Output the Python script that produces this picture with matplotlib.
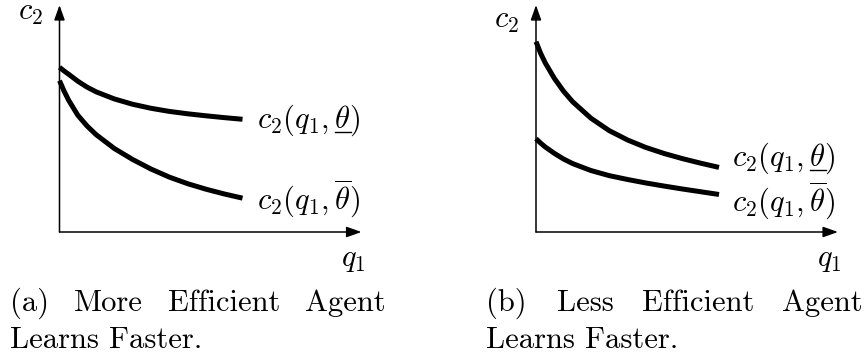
import matplotlib
matplotlib.use("Agg")
import matplotlib.pyplot as plt
from matplotlib.lines import Line2D
from matplotlib.patches import FancyArrowPatch

plt.rcParams["mathtext.fontset"] = "cm"
plt.rcParams["font.family"] = ["cmr10", "DejaVu Sans"]

# ---- data ----
q1_grid = [0, 0.25, 0.5, 1, 1.5, 2, 3, 4, 5, 6, 7, 8, 9, 10]
# panel (a): More Efficient Agent Learns Faster
a_c2_low_theta = [9.00, 8.80, 8.62, 8.24, 7.92, 7.66, 7.27, 6.98, 6.76, 6.59, 6.46, 6.35, 6.25, 6.16]
a_c2_bar_theta = [8.27, 7.70, 7.20, 6.38, 5.80, 5.32, 4.56, 3.96, 3.44, 3.00, 2.64, 2.34, 2.08, 1.85]
# panel (b): Less Efficient Agent Learns Faster
b_c2_low_theta = [10.40, 9.77, 9.25, 8.40, 7.70, 7.12, 6.22, 5.54, 5.03, 4.62, 4.29, 4.01, 3.76, 3.53]
b_c2_bar_theta = [5.10, 4.86, 4.65, 4.30, 3.99, 3.74, 3.36, 3.08, 2.87, 2.68, 2.51, 2.35, 2.20, 2.05]

label_low = r"$c_2(q_1,\theta)$"          # theta is underlined afterwards
label_bar = r"$c_2(q_1,\overline{\theta})$"
caption_a = ["(a)", "More", "Efficient", "Agent"]
caption_b = ["(b)", "Less", "Efficient", "Agent"]
caption_line2 = "Learns Faster."

W, H = 868, 358
fig = plt.figure(figsize=(W / 100, H / 100), dpi=100)
FS = 22


def fx(px):
    return px / W


def fy(py):
    return 1 - py / H


XMAX, YMAX = 16.5, 12.4


def panel(ox, low, bar):
    # ox: pixel x of origin; origin y = 232
    ax = fig.add_axes([fx(ox), fy(232), (XMAX * 18.3) / W, (YMAX * 18.3) / H])
    ax.set_xlim(0, XMAX)
    ax.set_ylim(0, YMAX)
    ax.axis("off")
    for xy in [((XMAX, 0)), ((0, YMAX))]:
        arr = FancyArrowPatch((0, 0), xy, arrowstyle="-|>,head_length=0.45,head_width=0.16",
                              mutation_scale=20, lw=1.1, color="black",
                              shrinkA=0, shrinkB=0, clip_on=False)
        ax.add_patch(arr)
    for series in (low, bar):
        ax.plot(q1_grid, series, color="black", lw=3.6, solid_capstyle="butt",
                solid_joinstyle="round", clip_on=False)
    return ax


panel(59.5, a_c2_low_theta, a_c2_bar_theta)
panel(536, b_c2_low_theta, b_c2_bar_theta)

low_texts = []
for x, yb in [(257, 127.5), (732, 165.5)]:
    t = fig.text(fx(x), fy(yb), label_low, fontsize=FS, ha="left", va="baseline")
    low_texts.append((t, x, yb))
for x, yb in [(257, 209.5), (732, 212)]:
    fig.text(fx(x), fy(yb), label_bar, fontsize=FS, ha="left", va="baseline")

# axis labels
fig.text(fx(43), fy(13), r"$c_2$", fontsize=FS, ha="right", va="center")
fig.text(fx(519), fy(21), r"$c_2$", fontsize=FS, ha="right", va="center")
fig.text(fx(366), fy(260), r"$q_1$", fontsize=FS, ha="right", va="center")
fig.text(fx(842), fy(260), r"$q_1$", fontsize=FS, ha="right", va="center")

# captions (justified first line)
for words, xs in [(caption_a, [10, 74, 168, 305]), (caption_b, [486, 557, 642, 782])]:
    for w, x in zip(words, xs):
        fig.text(fx(x), fy(311), w, fontsize=FS, ha="left", va="baseline")
fig.text(fx(10), fy(348), caption_line2, fontsize=FS, ha="left", va="baseline")
fig.text(fx(486), fy(348), caption_line2, fontsize=FS, ha="left", va="baseline")

# underline theta
fig.canvas.draw()
r = fig.canvas.get_renderer()
for t, x, yb in low_texts:
    t1 = fig.text(fx(x), fy(yb), r"$c_2(q_1,\theta$", fontsize=FS, ha="left", va="baseline")
    t2 = fig.text(fx(x), fy(yb), r"$\theta$", fontsize=FS, ha="left", va="baseline")
    b1 = t1.get_window_extent(r)
    b2 = t2.get_window_extent(r)
    t1.remove()
    t2.remove()
    x1 = b1.x1
    x0 = x1 - b2.width
    ypix = H - (yb + 4.5)
    fig.add_artist(Line2D([x0 / W, x1 / W], [ypix / H, ypix / H], color="black", lw=1.0,
                          transform=fig.transFigure))

fig.savefig("out.png", dpi=100)
